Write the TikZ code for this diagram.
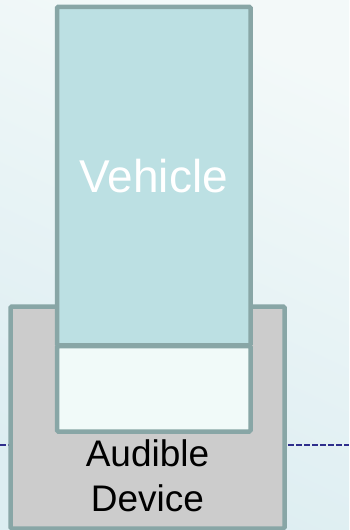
\documentclass[tikz,border=0pt]{standalone}
\usepackage{fontspec}
\setmainfont{Liberation Sans}
\usepackage{xcolor}
\usepackage{tikz}
\definecolor{bgtop}{HTML}{F3F9F9}
\definecolor{bgbot}{HTML}{DCEDF1}
\definecolor{vehfill}{HTML}{BCE0E3}
\definecolor{boxrule}{HTML}{88A6A6}
\definecolor{slotfill}{HTML}{F1FAF9}
\definecolor{devfill}{HTML}{CCCCCC}
\definecolor{dashblue}{HTML}{2E2E8C}

\begin{document}
\begin{tikzpicture}[x=1pt,y=-1pt,
      box/.style={draw=boxrule,line width=4.5pt,rounded corners=1.2pt,inner sep=0pt},
      floorline/.style={draw=dashblue,line width=1.3pt,dash pattern=on 6pt off 2pt}]
    % background
    \shade[top color=bgtop,bottom color=bgbot,shading angle=-25] (0,0) rectangle (349,530);
    \useasboundingbox (0,0) rectangle (349,530);
    \coordinate (lend) at (0,445);
    \coordinate (rend) at (349,445);
    \draw[floorline] (lend) -- (rend);
    \node[box,fill=devfill,minimum width=274pt,minimum height=222pt] (device) at (147.5,417.5) {};
    \node[box,fill=vehfill,minimum width=193.5pt,minimum height=338.5pt,
          text=white,font=\fontsize{46}{55}\selectfont] (vehicle) at (153.75,176) {Vehicle};
    \node[box,fill=slotfill,minimum width=193.5pt,minimum height=85.5pt] (slot) at (153.75,388.75) {};
    \node[align=center,font=\fontsize{37}{44.7}\selectfont] (devlbl) at (147.5,476) {Audible\\Device};
  \end{tikzpicture}
\end{document}
